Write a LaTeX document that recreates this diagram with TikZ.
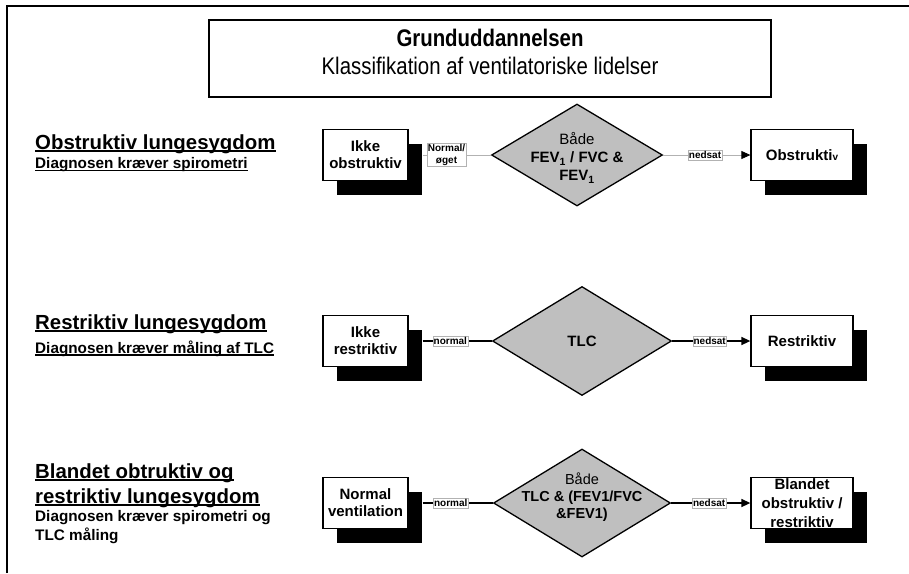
\documentclass[tikz,border=0pt]{standalone}
\usepackage{fontspec}
\setmainfont{Liberation Sans}
\newfontfamily\narrowsans[FakeStretch=0.85]{Liberation Sans}
\usetikzlibrary{arrows.meta,shapes.geometric,shadows}

\tikzset{
  box/.style={draw, line width=1.3pt, fill=white, minimum height=51pt, inner sep=2pt, align=center,
    font=\fontsize{15}{17}\selectfont\bfseries,
    drop shadow={shadow xshift=14pt, shadow yshift=-14pt, fill=black, opacity=1}},
  dia/.style={diamond, draw, line width=1.3pt, fill=black!25, inner sep=0pt},
  dtxt/.style={align=center, font=\fontsize{15}{18}\selectfont},
  lbl/.style={draw=black!30, line width=0.4pt, fill=white, text=black, inner xsep=0.7pt, inner ysep=1.2pt,
    align=center, font=\fontsize{10}{11.5}\selectfont\bfseries},
  heading/.style={anchor=base west, inner sep=0pt, font=\fontsize{20.4}{24}\selectfont\bfseries},
  subhead/.style={anchor=base west, inner sep=0pt, font=\fontsize{15.3}{18}\selectfont\bfseries},
  underbar/.style={line width=1.2pt},
  conn/.style={line width=1.5pt},
  thinconn/.style={gray!60, line width=0.8pt},
  toarrow/.style={-{Triangle[length=9pt,width=8pt,color=black]}}
}

\begin{document}
\begin{tikzpicture}[x=1pt,y=-1pt]
\useasboundingbox (0,0) rectangle (909,573);
% frame and title
\draw[line width=2pt] (7,573) -- (7,6) -- (909,6);
\node[draw, line width=1.3pt, minimum width=562pt, minimum height=77pt] (tbox) at (490,58.5) {};
\node[align=center, font=\narrowsans\fontsize{24}{28}\selectfont] (title) at (490,52)
  {\textbf{Grunduddannelsen}\\Klassifikation af ventilatoriske lidelser};

% headings
\node[heading] (h1) at (35,149) {Obstruktiv lungesygdom};
\node[subhead] (s1) at (35,168.5) {Diagnosen kræver spirometri};
\node[heading] (h2) at (35,329) {Restriktiv lungesygdom};
\node[subhead] (s2) at (35,353) {Diagnosen kræver måling af TLC};
\node[heading] (h3a) at (35,478) {Blandet obtruktiv og};
\node[heading] (h3b) at (35,503) {restriktiv lungesygdom};
\node[subhead] (s3a) at (35,521) {Diagnosen kræver spirometri og};
\node[subhead] (s3b) at (35,540) {TLC måling};
\foreach \h in {h1,s1,h2,s2,h3a,h3b}
  \draw[underbar] ([yshift=-2pt]\h.base west) -- ([yshift=-2pt]\h.base east);

% row 1
\node[box, minimum width=85pt] (lb1) at (365.5,155) {Ikke\\obstruktiv};
\node[dia, minimum width=171pt, minimum height=102pt] (d1) at (577,155) {};
\node[dtxt] (d1t) at ([yshift=-3pt]d1.center)
  {Både\\\textbf{FEV\textsubscript{1} / FVC \&}\\\textbf{FEV\textsubscript{1}}};
\node[box, minimum width=102pt] (rb1) at (802,155) {Obstrukti{\fontsize{10}{10}\selectfont v}};
\draw[thinconn] ([xshift=14pt]lb1.east) -- node[lbl, pos=.35] (n1) {Normal/\\øget} (d1.west);
\draw[thinconn, toarrow] (d1.east) -- node[lbl, pos=.48] (e1) {nedsat} (rb1.west);

% row 2
\node[box, minimum width=85pt] (lb2) at (365.5,341) {Ikke\\restriktiv};
\node[dia, minimum width=179pt, minimum height=109pt] (d2) at (582,341) {};
\node[dtxt] (d2t) at (d2.center) {\textbf{TLC}};
\node[box, minimum width=102pt] (rb2) at (802,341) {Restriktiv};
\draw[conn] ([xshift=14pt]lb2.east) -- node[lbl, pos=.4] (n2) {normal} (d2.west);
\draw[conn, toarrow] (d2.east) -- node[lbl, pos=.48] (e2) {nedsat} (rb2.west);

% row 3
\node[box, minimum width=85pt] (lb3) at (365.5,503) {Normal\\ventilation};
\node[dia, minimum width=177pt, minimum height=108pt] (d3) at (582,503) {};
\node[dtxt, font=\fontsize{14.5}{17}\selectfont] (d3t) at ([yshift=6pt]d3.center)
  {Både\\\textbf{TLC \& (FEV1/FVC}\\\textbf{\&FEV1)}};
\node[box, minimum width=102pt] (rb3) at (802,503) {};
\node[align=center, font=\fontsize{15}{19}\selectfont\bfseries] (rb3t) at (rb3.center)
  {Blandet\\obstruktiv /\\restriktiv};
\draw[conn] ([xshift=14pt]lb3.east) -- node[lbl, pos=.4] (n3) {normal} (d3.west);
\draw[conn, toarrow] (d3.east) -- node[lbl, pos=.48] (e3) {nedsat} (rb3.west);
\end{tikzpicture}
\end{document}
